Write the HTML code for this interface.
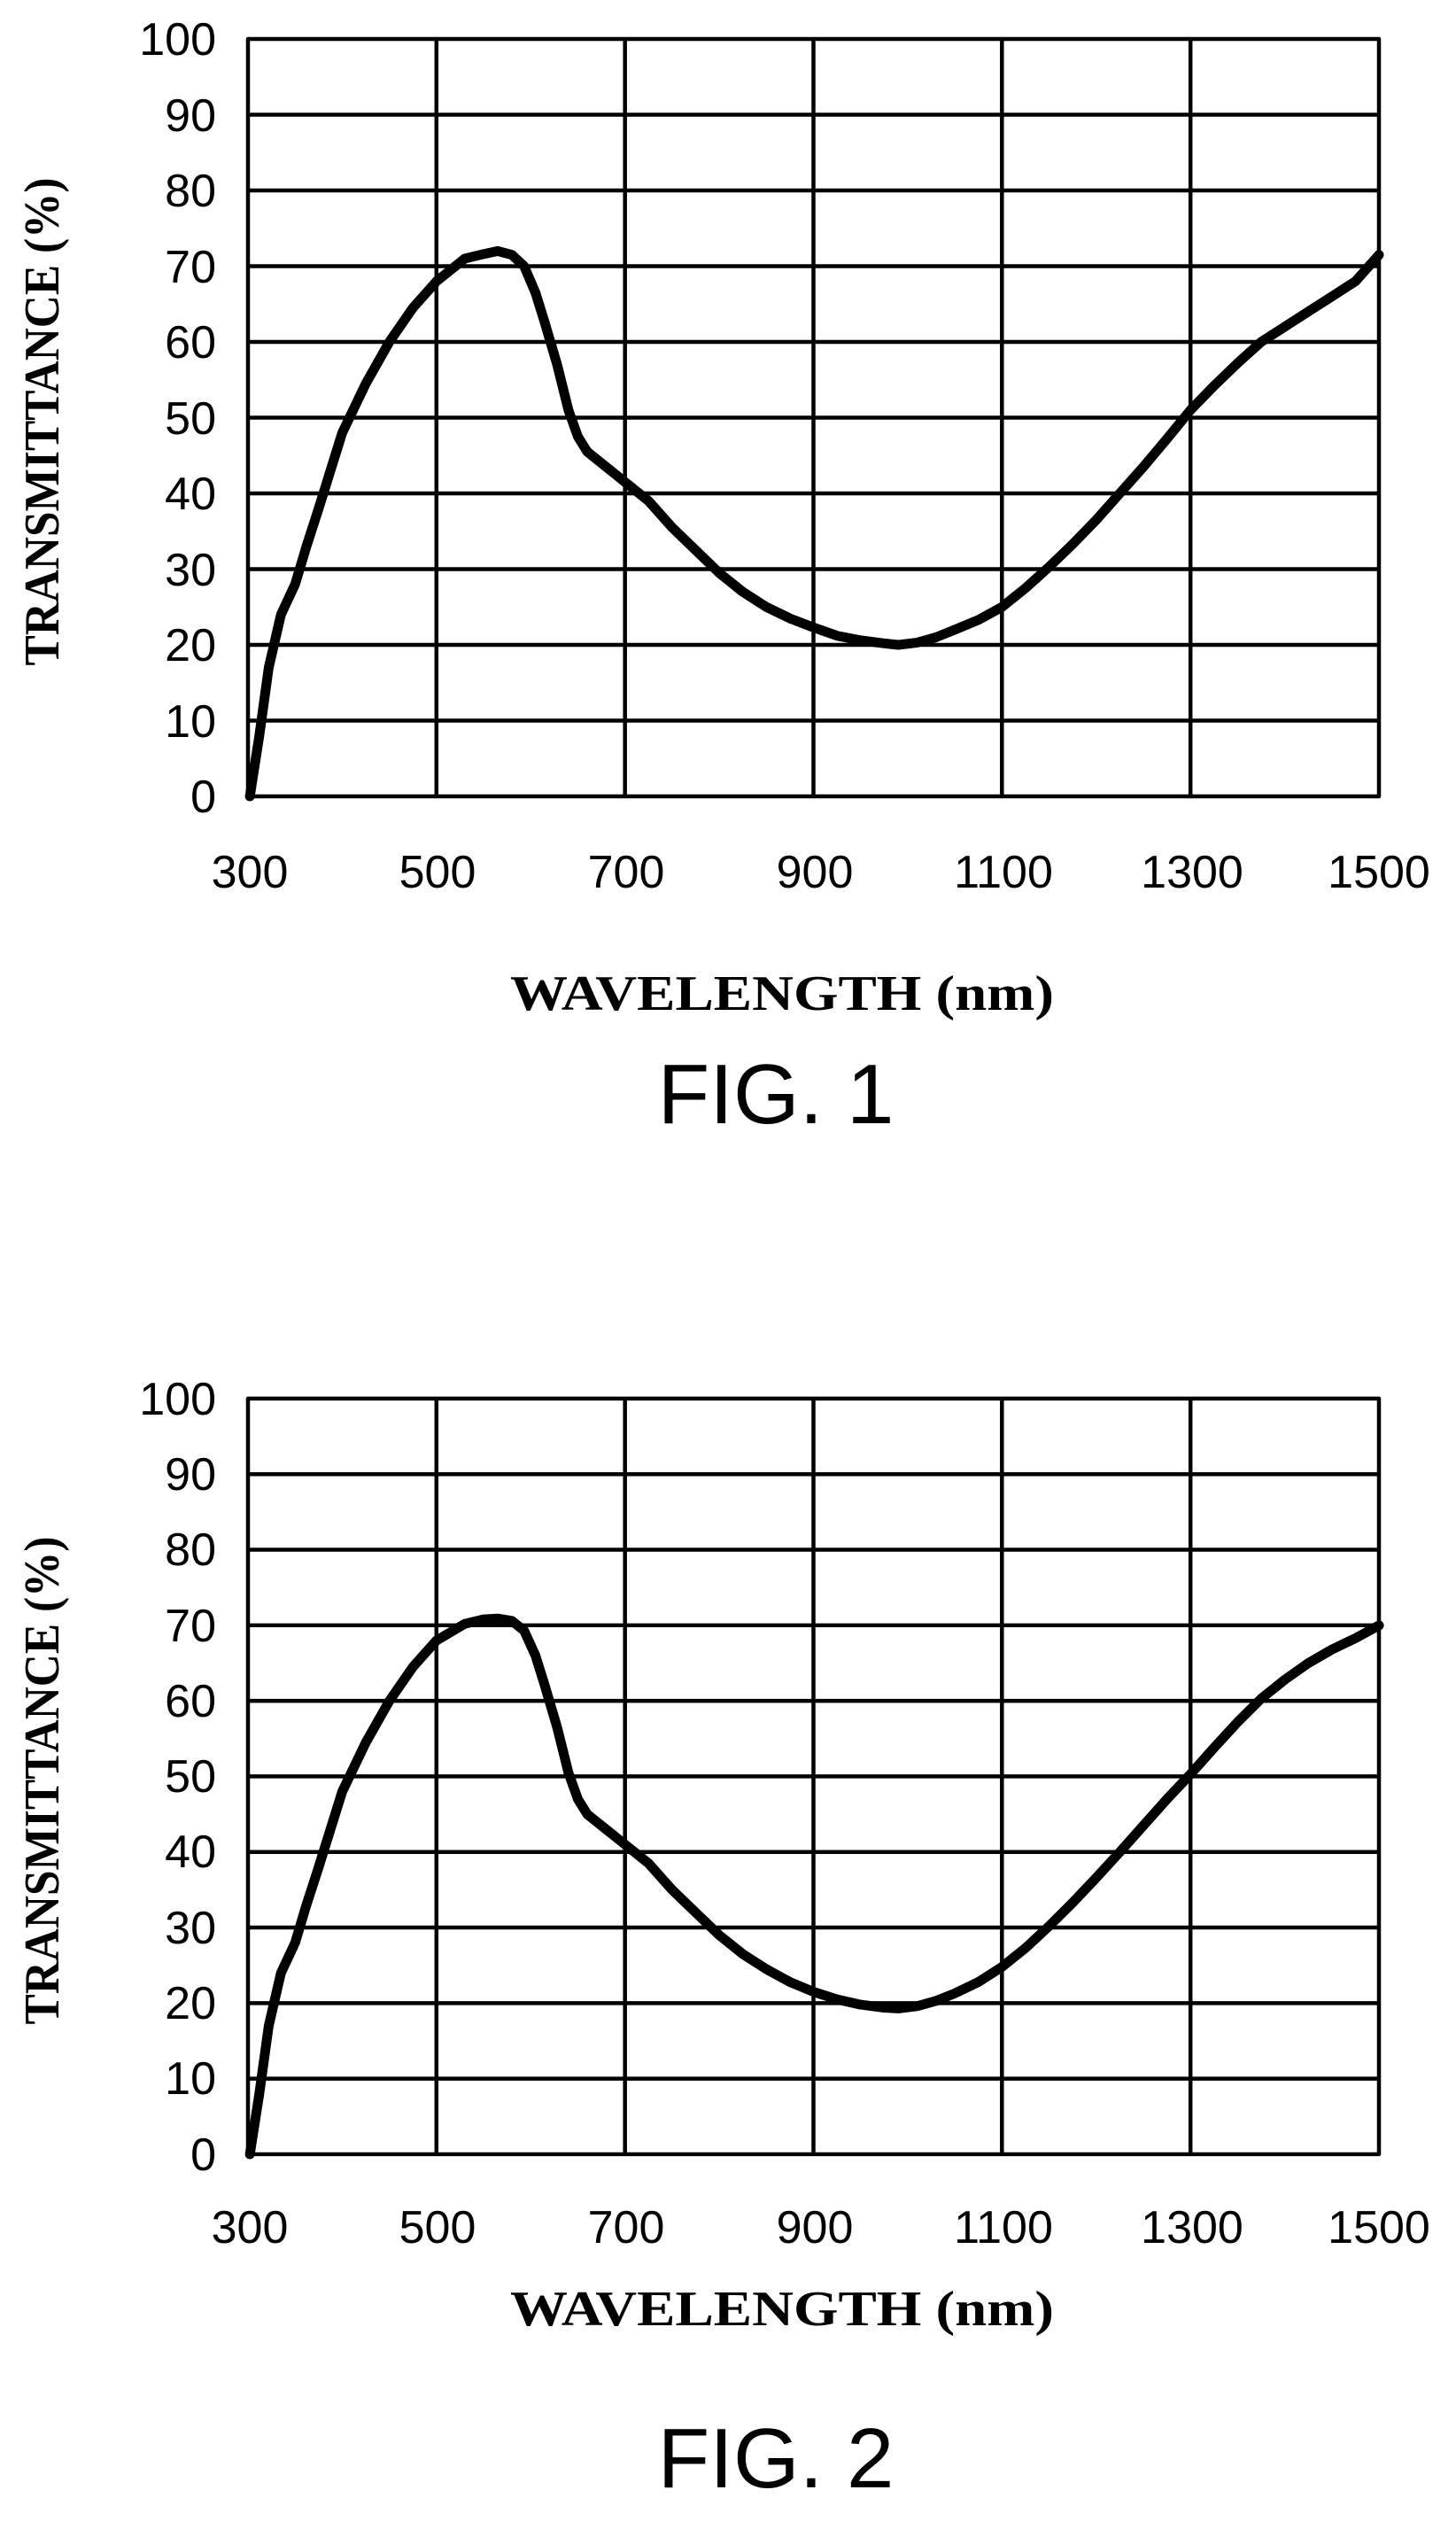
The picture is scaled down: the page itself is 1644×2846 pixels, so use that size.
<!DOCTYPE html>
<html><head><meta charset="utf-8"><style>
html,body{margin:0;padding:0;background:#fff;}
svg{display:block}
.yl{font-family:"Liberation Sans",sans-serif;font-size:52px;text-anchor:end;fill:#000}
.xl{font-family:"Liberation Sans",sans-serif;font-size:52px;text-anchor:middle;fill:#000}
.t{font-family:"Liberation Serif",serif;font-weight:bold;font-size:56px;fill:#000;text-anchor:middle}
.fig{font-family:"Liberation Sans",sans-serif;font-size:96px;fill:#000;text-anchor:middle}
</style></head><body>
<svg width="1644" height="2846" xmlns="http://www.w3.org/2000/svg">
<defs>
<g id="grid1" stroke="#000" stroke-width="4.5" fill="none">
<rect x="280" y="44" width="1277" height="855" stroke-linejoin="round"/>
<path d="M280 129.5H1557M280 215H1557M280 300.5H1557M280 386H1557M280 471.5H1557M280 557H1557M280 642.5H1557M280 728H1557M280 813.5H1557
M492.8 44V899M705.7 44V899M918.5 44V899M1131.3 44V899M1344.2 44V899"/>
</g>
</defs>
<use href="#grid1"/>
<g class="yl">
<text x="244" y="62">100</text><text x="244" y="148">90</text><text x="244" y="233">80</text><text x="244" y="319">70</text><text x="244" y="404">60</text><text x="244" y="490">50</text><text x="244" y="575">40</text><text x="244" y="661">30</text><text x="244" y="746">20</text><text x="244" y="832">10</text><text x="244" y="917">0</text>
</g>
<g class="xl">
<text x="282" y="1002">300</text><text x="494" y="1002">500</text><text x="707" y="1002">700</text><text x="920" y="1002">900</text><text x="1133" y="1002">1100</text><text x="1346" y="1002">1300</text><text x="1557" y="1002">1500</text>
</g>
<text class="t" x="883" y="1140" textLength="614" lengthAdjust="spacingAndGlyphs">WAVELENGTH (nm)</text>
<text class="t" transform="translate(66,476) rotate(-90)" textLength="551" lengthAdjust="spacingAndGlyphs">TRANSMITTANCE (%)</text>
<text class="fig" x="876" y="1268">FIG. 1</text>
<g transform="translate(-39.25,899) scale(1.0642,-8.55)">
<polyline vector-effect="non-scaling-stroke" fill="none" stroke="#000" stroke-width="11" stroke-linejoin="round" stroke-linecap="round"
points="302,0 312,8 322,17 335,24 350,28 362,33 375,38 390,44 400,48 425,54.5 450,60 475,64.5 500,68 530,71 550,71.6 565,72 580,71.5 593,70 605,66.5 615,62.5 628,57 640,51 650,47.5 660,45.5 680,43.5 700,41.5 725,39 750,35.5 775,32.5 800,29.5 825,27 850,25 875,23.5 900,22.3 925,21.2 950,20.6 975,20.2 990,20 1010,20.3 1030,21 1050,22 1075,23.3 1100,25 1125,27.5 1150,30.3 1175,33.3 1200,36.5 1225,40 1250,43.5 1275,47.2 1300,51 1325,54.2 1350,57.2 1375,60 1400,62 1425,64 1450,66 1475,68 1500,71.5"/>
</g>

<g transform="translate(0,1535) scale(1,0.9977)"><use href="#grid1"/></g>
<g class="yl">
<text x="244" y="1597">100</text><text x="244" y="1682">90</text><text x="244" y="1767">80</text><text x="244" y="1853">70</text><text x="244" y="1938">60</text><text x="244" y="2023">50</text><text x="244" y="2108">40</text><text x="244" y="2194">30</text><text x="244" y="2279">20</text><text x="244" y="2364">10</text><text x="244" y="2450">0</text>
</g>
<g class="xl">
<text x="282" y="2532">300</text><text x="494" y="2532">500</text><text x="707" y="2532">700</text><text x="920" y="2532">900</text><text x="1133" y="2532">1100</text><text x="1346" y="2532">1300</text><text x="1557" y="2532">1500</text>
</g>
<text class="t" x="883" y="2625" textLength="614" lengthAdjust="spacingAndGlyphs">WAVELENGTH (nm)</text>
<text class="t" transform="translate(66,2010) rotate(-90)" textLength="551" lengthAdjust="spacingAndGlyphs">TRANSMITTANCE (%)</text>
<text class="fig" x="876" y="2808">FIG. 2</text>
<g transform="translate(-39.25,2432) scale(1.0642,-8.53)">
<polyline vector-effect="non-scaling-stroke" fill="none" stroke="#000" stroke-width="11" stroke-linejoin="round" stroke-linecap="round"
points="302,0 312,8 322,17 335,24 350,28 362,33 375,38 390,44 400,48 425,54.5 450,60 475,64.5 500,68 530,70.2 550,70.8 565,70.9 580,70.6 593,69.3 605,66 615,62 628,56.5 640,50.5 650,47 660,45 680,43 700,41 725,38.5 750,35 775,32 800,29 825,26.5 850,24.5 875,22.8 900,21.5 925,20.5 950,19.8 975,19.4 990,19.3 1010,19.6 1030,20.3 1050,21.3 1075,22.8 1100,24.8 1125,27.3 1150,30.2 1175,33.3 1200,36.6 1225,40 1250,43.5 1275,47 1300,50.3 1325,53.8 1350,57.2 1375,60.3 1400,62.8 1425,65 1450,66.8 1475,68.3 1500,70"/>
</g>
</svg>
</body></html>
